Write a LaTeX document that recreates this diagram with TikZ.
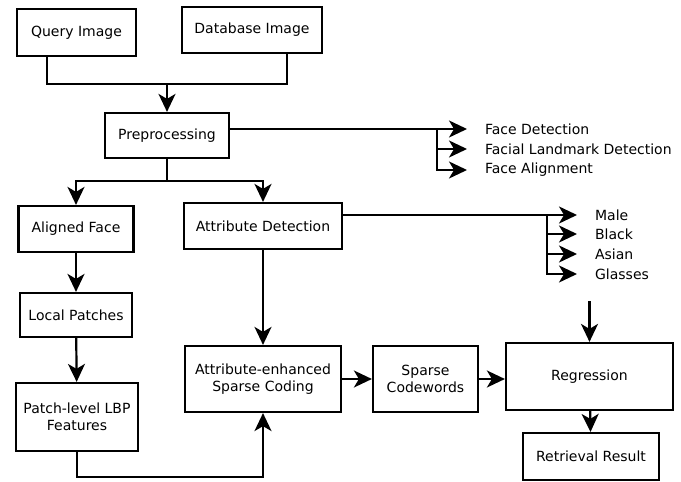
\documentclass[tikz,border=0pt]{standalone}
\usepackage{fontspec}
\setmainfont{DejaVu Sans}
\usetikzlibrary{arrows.meta}
\tikzset{
    box/.style={draw, line width=2.2pt, align=center, inner sep=2pt, font=\fontsize{14}{17}\selectfont},
    lbl/.style={anchor=west, inner xsep=17pt, inner ysep=1pt, font=\fontsize{14}{17}\selectfont},
    arr/.style={-{Stealth[length=18pt, width=17pt, inset=5pt]}},
}
\begin{document}
\begin{tikzpicture}[x=1pt, y=-1pt, line width=2.2pt]
                \useasboundingbox (0,0) rectangle (681,482);
                % boxes
                \node[box, minimum width=119pt, minimum height=47pt] (query) at (76.5, 32.5) {Query Image};
                \node[box, minimum width=140pt, minimum height=46pt] (database) at (252, 30) {Database Image};
                \node[box, minimum width=124pt, minimum height=45pt] (prep) at (167, 135.5) {Preprocessing};
                \node[box, minimum width=115pt, minimum height=46pt] (aligned) at (76, 229) {Aligned Face};
                \node[box, minimum width=158pt, minimum height=46pt] (attrdet) at (263, 226) {Attribute Detection};
                \node[box, minimum width=112pt, minimum height=44pt] (local) at (76, 315) {Local Patches};
                \node[box, minimum width=122pt, minimum height=68pt] (patch) at (77, 417) {Patch-level LBP\\Features};
                \node[box, minimum width=156pt, minimum height=66pt] (attrsc) at (263, 379) {Attribute-enhanced\\Sparse Coding};
                \node[box, minimum width=105pt, minimum height=66pt] (sparse) at (425.5, 379) {Sparse\\Codewords};
                \node[box, minimum width=167pt, minimum height=67pt] (regr) at (589.5, 376.5) {Regression};
                \node[box, minimum width=136pt, minimum height=47pt] (retr) at (591, 456.5) {Retrieval Result};
                % labels
                \node[lbl] (fd) at (467, 129) {Face Detection};
                \node[lbl] (fld) at (467, 149) {Facial Landmark Detection};
                \node[lbl] (fa) at (467, 170) {Face Alignment};
                \node[lbl] (male) at (577, 215) {Male};
                \node[lbl] (black) at (577, 234) {Black};
                \node[lbl] (asian) at (577, 254) {Asian};
                \node[lbl] (glasses) at (577, 274) {Glasses};
                % joints
                \path (47, 84) coordinate (qm);
                \path (287, 84) coordinate (dm);
                \path (167, 84) coordinate (pm);
                \path (167, 181) coordinate (sp);
                \path (437, 129) coordinate (fb);
                \path (547, 215) coordinate (ab);
                \path (589.5, 301) coordinate (rtop);
                % connectors
                \draw (query.south -| qm) -- (qm) -- (dm) -- (database.south -| dm);
                \draw[arr] (pm) -- (prep.north);
                \draw[arr] (prep.south) -- (sp) -| (aligned.north);
                \draw[arr] (sp) -| (attrdet.north);
                \draw[arr] (prep.east |- fd) -- (fd.west);
                \draw[arr] (fb) |- (fld.west);
                \draw[arr] (fb) |- (fa.west);
                \draw[arr] (attrdet.east |- male) -- (male.west);
                \draw[arr] (ab) |- (black.west);
                \draw[arr] (ab) |- (asian.west);
                \draw[arr] (ab) |- (glasses.west);
                \draw[arr] (aligned) -- (local);
                \draw[arr] (local) -- (patch);
                \draw[arr] (attrdet) -- (attrsc);
                \draw[arr] (patch.south) -- ++(0, 25) -| (attrsc.south);
                \draw[arr] (attrsc) -- (sparse);
                \draw[arr] (sparse.east) -- (sparse.east -| regr.west);
                \draw[arr] (rtop) -- (regr.north);
                \draw[arr] (regr) -- (retr);
\end{tikzpicture}
\end{document}
